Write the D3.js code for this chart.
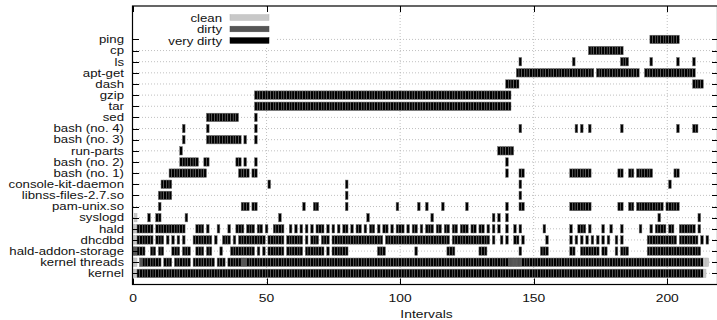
<!DOCTYPE html>
<html><head><meta charset="utf-8">
<script src="https://cdn.jsdelivr.net/npm/d3@7"></script>
<style>
body{margin:0;background:#fff}
text{font-family:"Liberation Sans",Arial,sans-serif;fill:#111}
</style>
</head><body>
<svg id="c" width="717" height="320"></svg>
<script>
// ---------- data ----------
const categories = ["ping","cp","ls","apt-get","dash","gzip","tar","sed","bash (no. 4)","bash (no. 3)","run-parts","bash (no. 2)","bash (no. 1)","console-kit-daemon","libnss-files-2.7.so","pam-unix.so","syslogd","hald","dhcdbd","hald-addon-storage","kernel threads","kernel"];
const xTicks = [0, 50, 100, 150, 200];
const stateNames = ["clean", "dirty", "very dirty"];
const xLabel = "Intervals";
// runs of intervals: [first, last, state]  (state 0 = clean, 1 = dirty, 2 = very dirty)
const rowPing = [[194,204,2]];
const rowCp = [[171,183,2]];
const rowLs = [[145,145,2],[165,165,2],[183,185,2],[194,194,2],[204,204,2],[210,210,2]];
const rowAptGet = [[144,172,2],[174,189,2],[192,210,2]];
const rowDash = [[140,144,2],[210,213,2]];
const rowGzip = [[46,141,2]];
const rowTar = [[46,141,2]];
const rowSed = [[28,39,2],[46,46,2]];
const rowBash4 = [[19,19,2],[28,28,2],[46,46,2],[145,145,2],[166,166,2],[168,168,2],[171,171,2],[183,183,2],[204,204,2],[210,211,2]];
const rowBash3 = [[19,19,2],[28,40,2],[42,42,2],[46,46,2]];
const rowRunParts = [[18,18,2],[137,142,2]];
const rowBash2 = [[18,24,2],[27,28,2],[39,40,2],[42,42,2],[46,46,2],[140,140,2]];
const rowBash1 = [[14,27,2],[40,43,2],[45,46,2],[140,140,2],[145,146,2],[164,171,2],[182,183,2],[186,187,2],[189,194,2],[203,204,2]];
const rowConsoleKit = [[11,14,2],[51,51,2],[80,80,2],[145,145,2],[201,201,2]];
const rowLibnss = [[10,14,2],[80,80,2],[145,145,2]];
const rowPamUnix = [[10,10,2],[41,43,2],[45,46,2],[64,64,2],[68,69,2],[80,80,2],[99,99,2],[107,107,2],[110,110,2],[116,116,2],[125,125,2],[140,140,2],[145,146,2],[164,171,2],[182,183,2],[186,187,2],[189,198,2],[200,204,2]];
const rowSyslogd = [[1,1,0],[6,6,2],[9,10,2],[20,20,2],[55,55,2],[88,88,2],[112,112,2],[135,135,2],[137,137,2],[140,140,2],[197,197,2],[212,212,2]];
const rowHald = [[0,1,0],[2,7,2],[9,19,2],[24,26,2],[28,28,2],[32,32,2],[36,36,2],[39,41,2],[43,45,2],[47,48,2],[50,50,2],[53,56,2],[59,59,2],[61,61,2],[63,63,2],[65,65,2],[67,67,2],[69,71,2],[73,73,2],[75,75,2],[77,77,2],[79,80,2],[82,82,2],[84,85,2],[87,87,2],[89,90,2],[92,92,2],[94,95,2],[97,97,2],[99,101,2],[103,103,2],[105,106,2],[108,108,2],[110,112,2],[114,115,2],[117,118,2],[120,121,2],[123,125,2],[127,128,2],[130,131,2],[133,133,2],[135,135,2],[137,137,2],[140,140,2],[143,143,2],[145,145,2],[154,154,2],[164,164,2],[167,169,2],[171,171,2],[176,176,2],[179,179,2],[183,183,2],[190,190,2],[194,194,2],[196,199,2],[201,202,2],[205,210,2],[212,212,2]];
const rowDhcdbd = [[0,1,0],[2,7,2],[9,11,2],[13,13,2],[15,15,2],[17,17,2],[19,19,2],[23,29,2],[31,31,2],[34,36,2],[38,38,2],[40,49,2],[51,56,2],[58,63,2],[65,65,2],[67,69,2],[71,73,2],[75,93,2],[95,118,2],[120,133,2],[135,135,2],[138,138,2],[140,140,2],[143,143,2],[144,144,2],[146,146,2],[155,155,2],[164,164,2],[166,166,2],[168,168,2],[170,170,2],[172,172,2],[174,174,2],[176,176,2],[178,178,2],[181,181,2],[183,183,2],[193,203,2],[205,211,2],[213,213,2],[215,215,2]];
const rowHaldAddon = [[0,1,1],[2,4,2],[7,8,2],[10,11,2],[15,17,2],[19,21,2],[24,26,2],[28,29,2],[33,33,2],[37,45,2],[47,47,2],[49,49,2],[51,56,2],[58,63,2],[65,71,2],[73,73,2],[75,80,2],[92,94,2],[106,106,2],[118,120,2],[130,132,2],[145,145,2],[153,155,2],[164,165,2],[168,174,2],[176,177,2],[181,181,2],[183,185,2],[193,212,2]];
const rowKernelThreads = [[0,1,0],[3,3,1],[4,10,2],[12,14,2],[16,21,2],[23,30,2],[32,34,2],[36,40,2],[41,42,1],[43,44,2],[45,140,2],[141,145,1],[146,213,2],[214,215,0]];
const rowKernel = [[0,1,0],[2,213,2],[214,214,0]];
const rows = [rowPing,rowCp,rowLs,rowAptGet,rowDash,rowGzip,rowTar,rowSed,rowBash4,rowBash3,rowRunParts,rowBash2,rowBash1,rowConsoleKit,rowLibnss,rowPamUnix,rowSyslogd,rowHald,rowDhcdbd,rowHaldAddon,rowKernelThreads,rowKernel];
const xMax = 219;

// ---------- styles ----------
const stateColors = ["#c8c8c8", "#555555", "#000000"];
const svg = d3.select("#c");
const L = 133, R = 718, T = 6, B = 284.5;
const x = d3.scaleLinear().domain([0, xMax]).range([L, R]);
const nSlots = categories.length + 3;
const y = d3.scaleLinear().domain([0, nSlots]).range([B, T]);
const rowY = i => y(categories.length - i);   // ping (i=0) -> slot 22, kernel -> slot 1
const barH = 8.4;

function label(g, tx, ty, str, anchor, fs) {
  return g.append("text")
    .attr("transform", `translate(${tx},${ty}) scale(1.26,1)`)
    .attr("text-anchor", anchor)
    .attr("font-size", fs || 10.5)
    .text(str);
}

svg.append("defs").append("clipPath").attr("id", "clip")
  .append("rect").attr("x", L).attr("y", T).attr("width", R - L).attr("height", B - T);

// grid
const grid = svg.append("g").attr("stroke", "#b0b0b0").attr("stroke-width", 0.8).attr("stroke-dasharray", "1,2");
categories.forEach((c, i) => {
  grid.append("line").attr("x1", L).attr("x2", R).attr("y1", rowY(i)).attr("y2", rowY(i));
});
xTicks.filter(t => t > 0).forEach(t => {
  grid.append("line").attr("x1", x(t)).attr("x2", x(t)).attr("y1", T).attr("y2", B);
});

// cells
const cells = [];
rows.forEach((segs, i) => {
  segs.forEach(([a, b, s]) => {
    for (let k = a; k <= b; k++) cells.push({ row: i, k, s });
  });
});
svg.append("g").attr("clip-path", "url(#clip)")
  .selectAll("rect").data(cells).join("rect")
  .attr("x", d => x(d.k - 0.5))
  .attr("width", d => x(d.k + 0.5) - x(d.k - 0.5))
  .attr("y", d => rowY(d.row) - barH / 2)
  .attr("height", barH)
  .attr("fill", d => stateColors[d.s])
  .attr("stroke", d => d.s === 2 ? "#707070" : d3.color(stateColors[d.s]).darker(0.3))
  .attr("stroke-width", 0.5);

// legend (opaque box)
svg.append("rect").attr("x", L + 1).attr("y", T + 1).attr("width", 143).attr("height", 39.5).attr("fill", "#fff");
const lg = svg.append("g");
stateNames.forEach((n, i) => {
  const ly = 17.5 + i * 11.5;
  label(lg, 222, ly + 4, n, "end");
  lg.append("rect").attr("x", 230).attr("y", ly - 2.8).attr("width", 39).attr("height", 5.6)
    .attr("fill", stateColors[i]).attr("stroke", d3.color(stateColors[i]).darker(0.3)).attr("stroke-width", 0.5);
});

// frame and ticks
const ax = svg.append("g").attr("stroke", "#000").attr("stroke-width", 1);
categories.forEach((c, i) => {
  const yy = Math.round(rowY(i)) + 0.5;
  ax.append("line").attr("x1", L).attr("x2", L + 6).attr("y1", yy).attr("y2", yy);
  ax.append("line").attr("x1", R - 6).attr("x2", R).attr("y1", yy).attr("y2", yy);
  label(svg, 124, rowY(i) + 3.8, c, "end");
});
xTicks.forEach(t => {
  const xx = Math.round(x(t)) + 0.5;
  ax.append("line").attr("x1", xx).attr("x2", xx).attr("y1", B).attr("y2", B - 6);
  ax.append("line").attr("x1", xx).attr("x2", xx).attr("y1", T).attr("y2", T + 6);
  label(svg, x(t), 301.5, String(t), "middle", 11);
});
svg.append("rect").attr("x", L - 0.5).attr("y", T).attr("width", R - L).attr("height", B - T)
  .attr("fill", "none").attr("stroke", "#000").attr("stroke-width", 1.2);
label(svg, (L + R) / 2 + 1, 317.5, xLabel, "middle", 11);
</script>
</body></html>
